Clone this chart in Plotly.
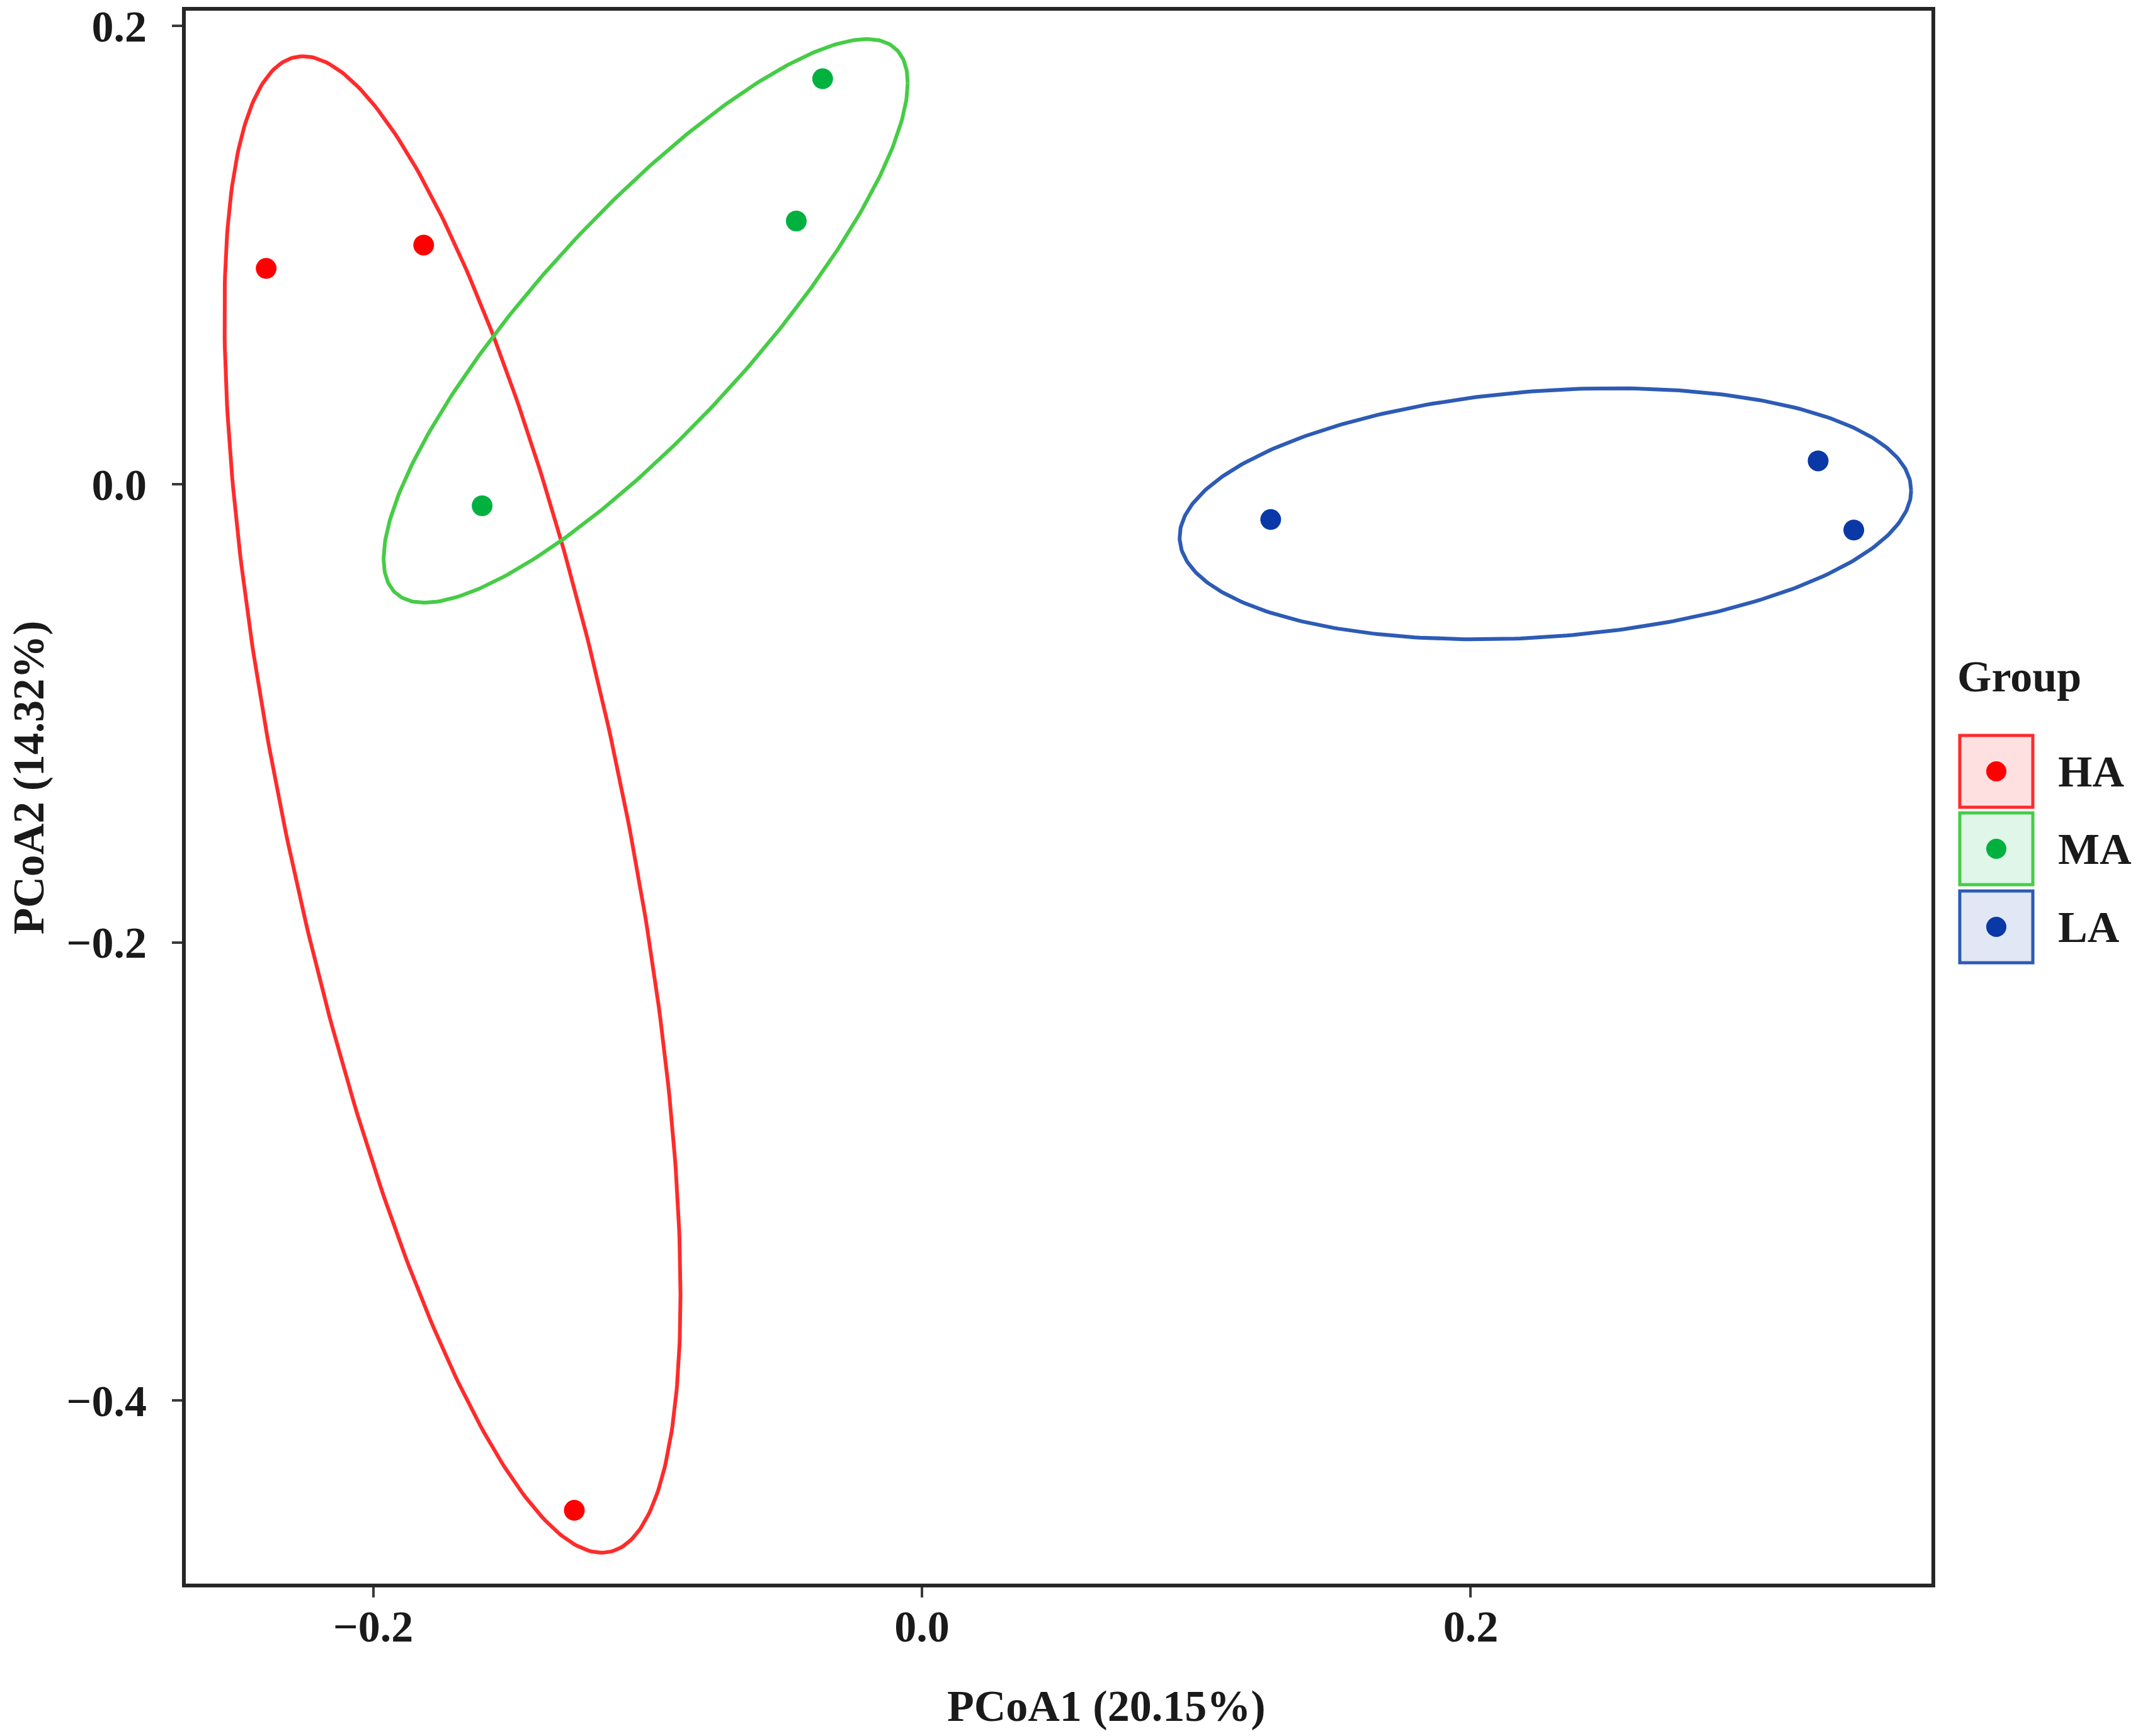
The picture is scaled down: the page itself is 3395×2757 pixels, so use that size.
import numpy as np
import plotly.graph_objects as go

# ---------------- data ----------------
groups = ["HA", "MA", "LA"]

ha_x = [-0.2390, -0.1816, -0.1267]
ha_y = [0.0942, 0.1044, -0.4479]
ma_x = [-0.0362, -0.0458, -0.1603]
ma_y = [0.1770, 0.1149, -0.0094]
la_x = [0.1271, 0.3266, 0.3396]
la_y = [-0.0154, 0.0102, -0.0200]

# confidence ellipses: centre, half extent in x / y, x-offset of topmost point
ellipse_center_x = [-0.1711, -0.1007, 0.2272]
ellipse_center_y = [-0.1398, 0.0713, -0.0129]
ellipse_half_width = [0.0831, 0.0955, 0.1333]
ellipse_half_height = [0.3266, 0.1230, 0.0548]
ellipse_top_dx = [-0.0544, 0.0806, 0.0248]

x_ticks = [-0.2, 0.0, 0.2]
x_tick_labels = ["\u22120.2", "0.0", "0.2"]
y_ticks = [-0.4, -0.2, 0.0, 0.2]
y_tick_labels = ["\u22120.4", "\u22120.2", "0.0", "0.2"]

x_title = "PCoA1 (20.15%)"
y_title = "PCoA2 (14.32%)"
legend_title = "Group"

# ---------------- styles ----------------
point_colors = ["#FF0000", "#00B140", "#0A38A6"]
line_colors = ["#FF2B2B", "#46CC46", "#2D5BB5"]
key_fills = ["rgba(255,0,0,0.12)", "rgba(0,177,64,0.12)", "rgba(10,56,166,0.12)"]
FONT = "Liberation Serif"

# the page body margin is removed (post_script), so the figure fills the window
W, H = 3395, 2757
ML, MT = 295, 17
PW, PH = 2772, 2498
MR, MB = W - ML - PW, H - MT - PH


def px_to_paper_x(px):
    return (px - ML) / PW


def px_to_paper_y(py):
    return (MT + PH - py) / PH


def ellipse(cx, cy, hw, hh, tdx, n=400):
    cov = np.array([[hw ** 2, tdx * hh], [tdx * hh, hh ** 2]])
    L = np.linalg.cholesky(cov)
    t = np.linspace(0, 2 * np.pi, n)
    pts = L @ np.vstack([np.cos(t), np.sin(t)])
    return cx + pts[0], cy + pts[1]


xs = [ha_x, ma_x, la_x]
ys = [ha_y, ma_y, la_y]

fig = go.Figure()

for i, g in enumerate(groups):
    ex, ey = ellipse(ellipse_center_x[i], ellipse_center_y[i],
                     ellipse_half_width[i], ellipse_half_height[i], ellipse_top_dx[i])
    fig.add_trace(go.Scatter(x=ex, y=ey, mode="lines", name=g + " ellipse",
                             line=dict(color=line_colors[i], width=6),
                             showlegend=False, hoverinfo="skip"))

for i, g in enumerate(groups):
    fig.add_trace(go.Scatter(x=xs[i], y=ys[i], mode="markers", name=g,
                             marker=dict(color=point_colors[i], size=33, line=dict(width=0)),
                             showlegend=False))

axis_common = dict(
    showgrid=False, zeroline=False, showline=True, mirror=True,
    linecolor="#262626", linewidth=6,
    ticks="outside", ticklen=16, tickwidth=4, tickcolor="#3a3a3a",
    ticklabeloverflow="allow",
    tickfont=dict(family=FONT, size=70, color="#1a1a1a", weight="bold"),
)

fig.update_xaxes(range=[-0.2683, 0.3679], tickvals=x_ticks, ticktext=x_tick_labels,
                 ticklabelstandoff=-14, **axis_common)
fig.update_yaxes(range=[-0.4799, 0.2067], tickvals=y_ticks, ticktext=y_tick_labels,
                 ticklabelstandoff=26, **axis_common)

annotations = [
    dict(text=x_title, xref="paper", yref="paper",
         x=px_to_paper_x(1756), y=px_to_paper_y(2709), xanchor="center", yanchor="middle",
         showarrow=False, font=dict(family=FONT, size=70, color="#1a1a1a", weight="bold")),
    dict(text=y_title, xref="paper", yref="paper", textangle=-90,
         x=px_to_paper_x(46), y=px_to_paper_y(1235), xanchor="center", yanchor="middle",
         showarrow=False, font=dict(family=FONT, size=69, color="#1a1a1a", weight="bold")),
    dict(text=legend_title, xref="paper", yref="paper",
         x=px_to_paper_x(3106), y=px_to_paper_y(1074), xanchor="left", yanchor="middle",
         showarrow=False, font=dict(family=FONT, size=70, color="#1a1a1a", weight="bold")),
]

shapes = []
key_cx = px_to_paper_x(3170)
key_centers_y = [1225, 1348, 1472]
for i, g in enumerate(groups):
    cy = px_to_paper_y(key_centers_y[i])
    shapes.append(dict(type="rect", xref="paper", yref="paper",
                       xsizemode="pixel", ysizemode="pixel", xanchor=key_cx, yanchor=cy,
                       x0=-58, x1=58, y0=-57, y1=57,
                       line=dict(color=line_colors[i], width=5), fillcolor=key_fills[i]))
    shapes.append(dict(type="circle", xref="paper", yref="paper",
                       xsizemode="pixel", ysizemode="pixel", xanchor=key_cx, yanchor=cy,
                       x0=-16, x1=16, y0=-16, y1=16,
                       line=dict(width=0), fillcolor=point_colors[i]))
    annotations.append(dict(text=g, xref="paper", yref="paper",
                            x=px_to_paper_x(3266), y=cy, xanchor="left", yanchor="middle",
                            showarrow=False,
                            font=dict(family=FONT, size=70, color="#1a1a1a", weight="bold")))

fig.update_layout(
    width=W, height=H,
    margin=dict(l=ML, r=MR, t=MT, b=MB, autoexpand=False),
    paper_bgcolor="white", plot_bgcolor="white",
    showlegend=False,
    annotations=annotations, shapes=shapes,
)

fig.write_html(
    "out.html",
    config={"displayModeBar": False},
    post_script="document.body.style.margin='0px';document.body.style.overflow='hidden';",
)
